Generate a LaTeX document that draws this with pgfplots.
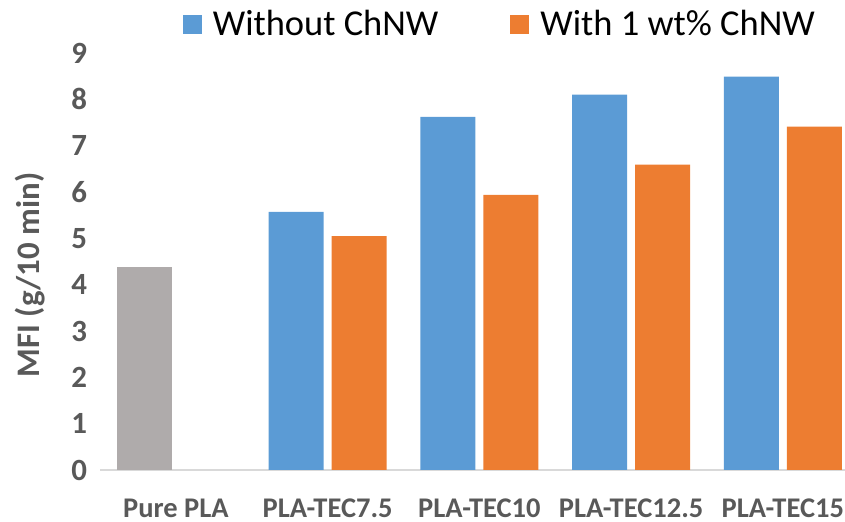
\documentclass[border=0pt]{standalone}
\usepackage{pgfplots}
\pgfplotsset{compat=1.18}
\usepackage{fontspec}
\setmainfont{Carlito}
\definecolor{cblue}{HTML}{5B9BD5}
\definecolor{corange}{HTML}{ED7D31}
\definecolor{cgray}{HTML}{AFABAB}
\definecolor{tickgray}{HTML}{595959}
\definecolor{axgray}{HTML}{D9D9D9}
\begin{document}
\begin{tikzpicture}
\useasboundingbox (0,0) rectangle (422.5bp,261bp);
\begin{axis}[
  at={(50bp,26bp)}, anchor=south west,
  scale only axis, width=372.5bp, height=208.5bp,
  ybar, bar width=0.3625,
  xmin=-0.5, xmax=4.41, ymin=0, ymax=9,
  ytick={0,1,...,9},
  xtick={0,1,2,3,4},
  xticklabels={Pure PLA, PLA-TEC7.5, PLA-TEC10, PLA-TEC12.5, PLA-TEC15},
  major tick length=0pt,
  axis lines=left,
  x axis line style={-, draw=axgray, line width=0.9bp},
  y axis line style={draw=none},
  /pgf/number format/assume math mode=true,
  yticklabel style={font=\bfseries\fontsize{15.5}{18}\selectfont, text=tickgray, xshift=-3bp},
  xticklabel style={font=\bfseries\fontsize{14.3}{17}\selectfont, text=tickgray, anchor=base, yshift=-23.5bp},
  ylabel={MFI (g/10 min)},
  ylabel style={font=\bfseries\fontsize{16.5}{19}\selectfont, text=tickgray, at={(axis description cs:-0.094,0.468)}, anchor=center, rotate=0},
  legend columns=2,
  legend style={draw=none, fill=none, font=\fontsize{18.3}{22}\selectfont,
    at={(axis description cs:0.538,1)}, anchor=center, yshift=14.5bp,
    /tikz/every odd column/.append style={column sep=3.5bp},
    /tikz/every even column/.append style={column sep=34bp}},
  legend image code/.code={\fill[#1] (0bp,-4.75bp) rectangle (9.5bp,4.75bp);},
]
\addplot[fill=cgray, draw=none, bar shift=-0.2077, forget plot] coordinates {(0,4.38)};
\addplot[fill=cblue, draw=none, bar shift=-0.2077] coordinates {(1,5.57) (2,7.62) (3,8.10) (4,8.49)};
\addplot[fill=corange, draw=none, bar shift=0.2077] coordinates {(1,5.05) (2,5.94) (3,6.59) (4,7.41)};
\legend{Without ChNW, With 1 wt\% ChNW}
\end{axis}
\end{tikzpicture}
\end{document}
